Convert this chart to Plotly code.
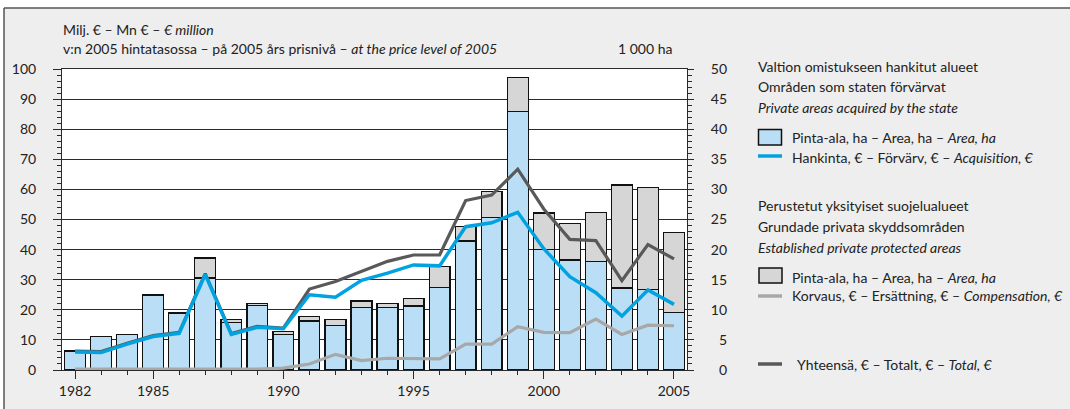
import plotly.graph_objects as go

# ---------------- data ----------------
years = [1982, 1983, 1984, 1985, 1986, 1987, 1988, 1989, 1990, 1991, 1992, 1993,
         1994, 1995, 1996, 1997, 1998, 1999, 2000, 2001, 2002, 2003, 2004, 2005]
# 1 000 ha (right axis)
state_area = [3.15, 5.6, 5.95, 12.45, 9.45, 15.3, 7.9, 10.7, 5.95, 8.15, 7.45, 10.35,
              10.4, 10.65, 13.75, 21.45, 25.35, 42.9, 20.0, 18.25, 18.05, 13.6, 13.4, 9.6]
private_area = [0.0, 0.0, 0.0, 0.15, 0.15, 3.3, 0.45, 0.4, 0.45, 0.75, 0.95, 1.1,
                0.7, 1.25, 3.4, 2.35, 4.25, 5.65, 6.1, 6.1, 8.1, 17.15, 16.9, 13.25]
# million EUR (left axis)
acquisition = [6.0, 5.8, 8.6, 11.1, 12.2, 31.7, 11.8, 14.2, 13.7, 25.0, 24.2, 29.8,
               32.2, 34.9, 34.6, 47.6, 48.9, 52.4, 40.3, 31.0, 25.7, 17.9, 26.6, 21.8]
compensation = [0.3, 0.3, 0.3, 0.3, 0.3, 0.3, 0.3, 0.3, 0.6, 2.0, 5.2, 3.1,
                 3.9, 3.7, 3.7, 8.6, 8.6, 14.4, 12.5, 12.4, 16.9, 11.8, 14.9, 14.7]
total = [6.3, 6.1, 8.9, 11.4, 12.5, 32.0, 12.1, 14.5, 13.9, 26.9, 29.4, 32.8,
         36.1, 38.2, 38.2, 56.3, 58.1, 66.7, 53.5, 43.4, 43.0, 29.7, 41.7, 36.9]

xlabels = [1982, 1985, 1990, 1995, 2000, 2005]
left_ticks = [0, 10, 20, 30, 40, 50, 60, 70, 80, 90, 100]
right_ticks = [0, 5, 10, 15, 20, 25, 30, 35, 40, 45, 50]

# ---------------- style ----------------
W, H = 1070, 409
L, R, T, B = 62, 687, 69, 370
FONT = "Lato, Roboto, sans-serif"
TXT = "#222222"
FS = 14
BLUE_FILL = "#b9def5"
GRAY_FILL = "#d6d6d6"
BLUE_LINE = "#00a3e0"
LGRAY_LINE = "#a8a8a8"
DGRAY_LINE = "#595959"
GRID = "#2a2a2a"


def px(x):
    return (x - L) / (R - L)


def py(y):
    return (B - y) / (B - T)


fig = go.Figure()
fig.add_trace(go.Bar(x=years, y=state_area, marker=dict(color=BLUE_FILL, line=dict(color="#111111", width=1.3)),
                     width=0.8, yaxis="y", showlegend=False))
fig.add_trace(go.Bar(x=years, y=private_area, marker=dict(color=GRAY_FILL, line=dict(color="#111111", width=1.3)),
                     width=0.8, yaxis="y", showlegend=False))
fig.add_trace(go.Scatter(x=years, y=compensation, mode="lines", line=dict(color=LGRAY_LINE, width=3.2),
                         yaxis="y2", showlegend=False))
fig.add_trace(go.Scatter(x=years, y=total, mode="lines", line=dict(color=DGRAY_LINE, width=3.2),
                         yaxis="y2", showlegend=False))
fig.add_trace(go.Scatter(x=years, y=acquisition, mode="lines", line=dict(color=BLUE_LINE, width=3.5),
                         yaxis="y2", showlegend=False))

fig.update_layout(
    width=W, height=H,
    margin=dict(l=L, r=W - R, t=T, b=H - B, autoexpand=False),
    paper_bgcolor="white", plot_bgcolor="white",
    barmode="stack", bargap=0.2,
    font=dict(family=FONT, size=FS, color=TXT),
    xaxis=dict(range=[1981.5, 2005.5], tickmode="array", tickvals=xlabels,
               ticktext=[str(v) for v in xlabels], ticks="outside", ticklen=8, tickcolor=GRID,
               showline=True, linecolor=GRID, linewidth=1, mirror=True, showgrid=False, zeroline=False,
               minor=dict(tick0=1982, dtick=1, ticks="outside", ticklen=4, tickcolor=GRID, showgrid=False),
               tickfont=dict(family=FONT, size=FS, color=TXT)),
    yaxis=dict(side="right", range=[0, 50], tickmode="array", tickvals=right_ticks,
               ticktext=[("\u2007" + str(v)) if v < 10 else str(v) for v in right_ticks],
               ticks="outside", ticklen=6, tickcolor=GRID, showline=True, linecolor=GRID, linewidth=1,
               showgrid=True, gridcolor=GRID, gridwidth=1, zeroline=False, ticklabelstandoff=14,
               minor=dict(dtick=1, ticks="outside", ticklen=4, tickcolor=GRID, showgrid=False),
               tickfont=dict(family=FONT, size=FS, color=TXT)),
    yaxis2=dict(side="left", overlaying="y", range=[0, 100], tickmode="array", tickvals=left_ticks,
                ticks="outside", ticklen=8, tickcolor=GRID, showline=True, linecolor=GRID, linewidth=1,
                showgrid=False, zeroline=False, ticklabelstandoff=14,
                minor=dict(dtick=2, ticks="outside", ticklen=4, tickcolor=GRID, showgrid=False),
                tickfont=dict(family=FONT, size=FS, color=TXT)),
)

shapes = [
    # grey panel
    dict(type="rect", xref="paper", yref="paper", x0=px(4), x1=px(1080), y0=py(8), y1=py(420),
         fillcolor="#eeeeee", line=dict(width=0), layer="below"),
    # white strip above the panel
    dict(type="rect", xref="paper", yref="paper", x0=px(-5), x1=px(1080), y0=py(-5), y1=py(8),
         fillcolor="white", line=dict(width=0), layer="below"),
    # frame lines (top and left)
    dict(type="line", xref="paper", yref="paper", x0=px(4), x1=px(1080), y0=py(8), y1=py(8),
         line=dict(color="#555555", width=1.5), layer="below"),
    dict(type="line", xref="paper", yref="paper", x0=px(4), x1=px(4), y0=py(8), y1=py(420),
         line=dict(color="#555555", width=1.5), layer="below"),
    # white plotting area
    dict(type="rect", xref="paper", yref="paper", x0=0, x1=1, y0=0, y1=1,
         fillcolor="white", line=dict(width=0), layer="below"),
    # legend symbols
    dict(type="rect", xref="paper", yref="paper", x0=px(758.5), x1=px(781.5), y0=py(145), y1=py(129.5),
         fillcolor=BLUE_FILL, line=dict(color="#111111", width=1.5)),
    dict(type="line", xref="paper", yref="paper", x0=px(758), x1=px(782), y0=py(156), y1=py(156),
         line=dict(color=BLUE_LINE, width=3.5)),
    dict(type="rect", xref="paper", yref="paper", x0=px(759), x1=px(782), y0=py(283), y1=py(268),
         fillcolor=GRAY_FILL, line=dict(color="#111111", width=1.5)),
    dict(type="line", xref="paper", yref="paper", x0=px(758), x1=px(782), y0=py(296), y1=py(296),
         line=dict(color=LGRAY_LINE, width=3.5)),
    dict(type="line", xref="paper", yref="paper", x0=px(758), x1=px(782), y0=py(364), y1=py(364),
         line=dict(color=DGRAY_LINE, width=3.5)),
]
fig.update_layout(shapes=shapes)


def note(x, y, text, anchor="left"):
    fig.add_annotation(xref="paper", yref="paper", x=px(x), y=py(y), text=text, showarrow=False,
                       xanchor=anchor, yanchor="middle", font=dict(family=FONT, size=FS, color=TXT))


note(61, 29, "Milj. € – Mn € – <i>€ million</i>")
note(61, 48, "v:n 2005 hintatasossa – på 2005 års prisnivå – <i>at the price level of 2005</i>")
note(674, 48, "1 000 ha", anchor="right")

note(756, 66, "Valtion omistukseen hankitut alueet")
note(756, 87, "Områden som staten förvärvat")
note(756, 108, "<i>Private areas acquired by the state</i>")
note(790, 137, "Pinta-ala, ha – Area, ha – <i>Area, ha</i>")
note(790, 157, "Hankinta, € – Förvärv, € – <i>Acquisition, €</i>")
note(756, 205, "Perustetut yksityiset suojelualueet")
note(756, 226, "Grundade privata skyddsområden")
note(756, 247, "<i>Established private protected areas</i>")
note(790, 277, "Pinta-ala, ha – Area, ha – <i>Area, ha</i>")
note(790, 295, "Korvaus, € – Ersättning, € – <i>Compensation, €</i>")
note(795, 364, "Yhteensä, € – Totalt, € – <i>Total, €</i>")

fig.write_html("out.html", config={"displayModeBar": False},
               post_script="document.body.style.margin='0';document.body.style.overflow='hidden';")
